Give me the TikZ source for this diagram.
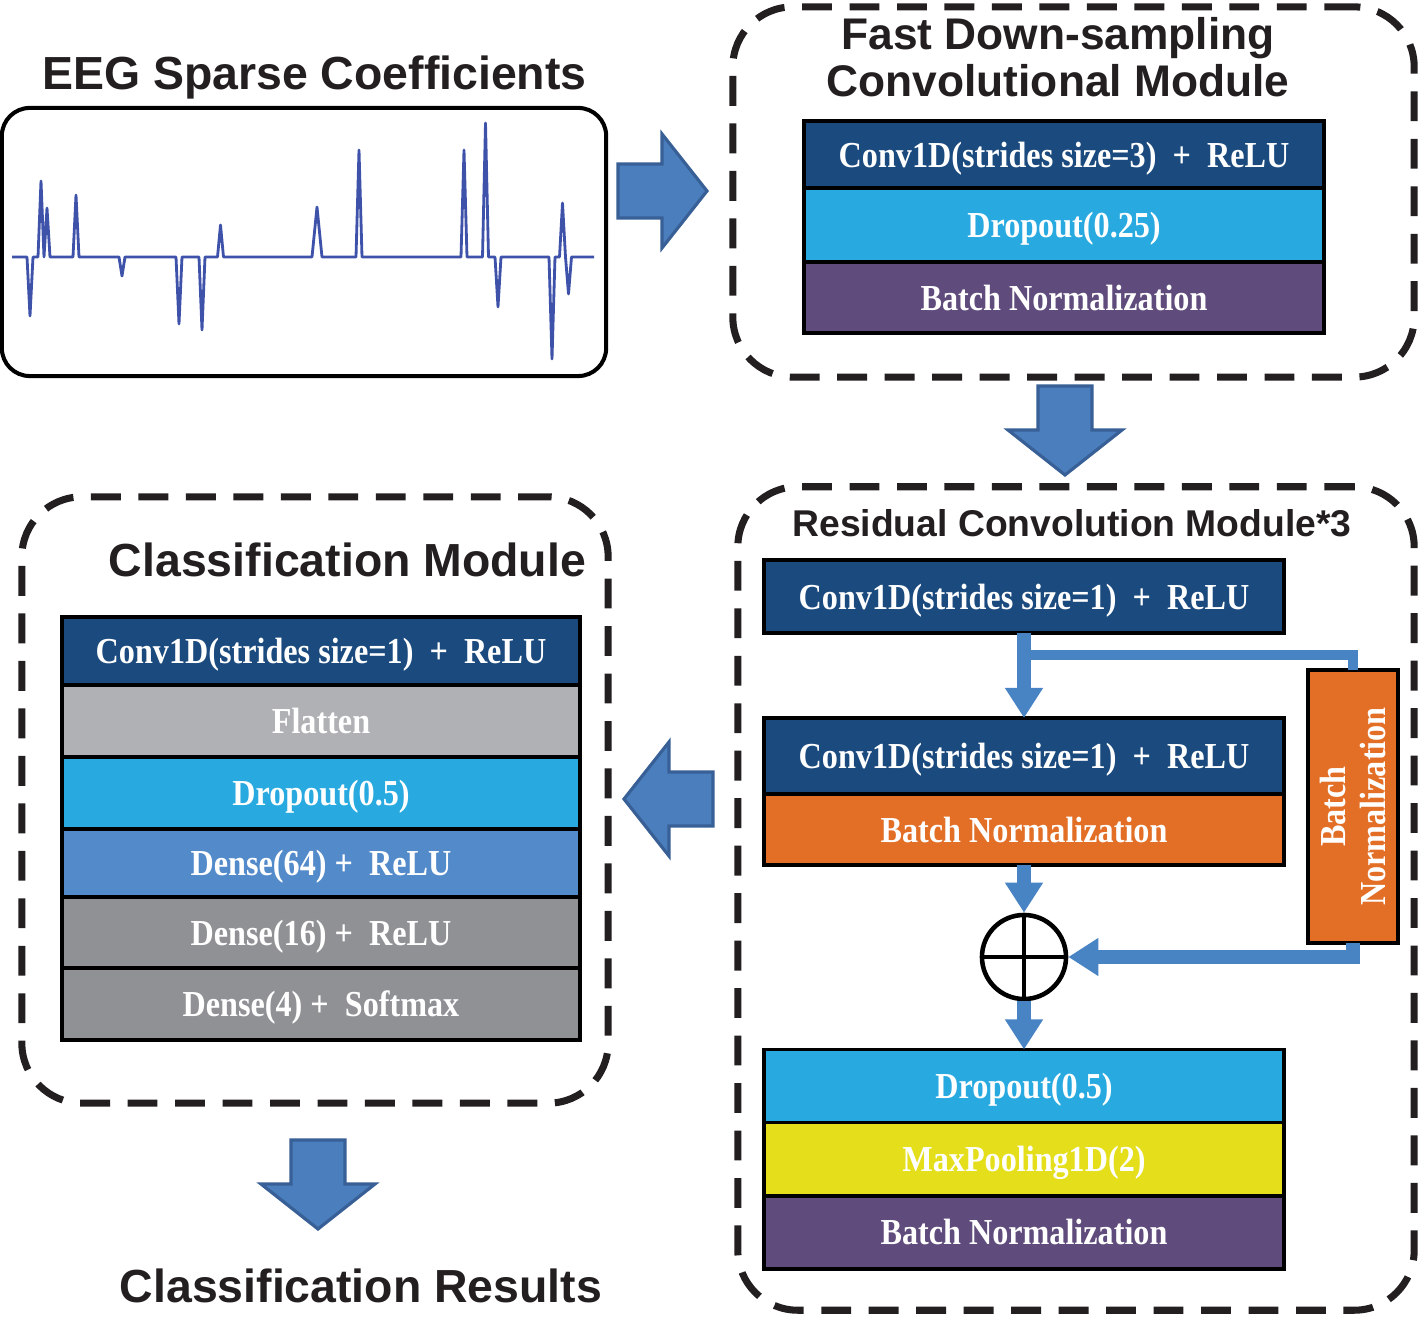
\documentclass[tikz,border=0pt]{standalone}
\usepackage{fontspec}
\setmainfont{Liberation Sans}
\newfontfamily\layerfont{Liberation Serif}[FakeStretch=0.88]
\usetikzlibrary{positioning,arrows.meta}

\definecolor{titleblack}{RGB}{35,31,32}
\definecolor{convblue}{RGB}{27,74,126}
\definecolor{dropblue}{RGB}{40,170,225}
\definecolor{bnpurple}{RGB}{96,76,124}
\definecolor{bnorange}{RGB}{227,111,39}
\definecolor{poolyellow}{RGB}{229,222,26}
\definecolor{flatgrey}{RGB}{175,177,180}
\definecolor{denseblue}{RGB}{82,138,202}
\definecolor{densegrey}{RGB}{143,145,149}
\definecolor{arrowfill}{RGB}{74,126,189}
\definecolor{arrowdraw}{RGB}{56,96,150}
\definecolor{skipblue}{RGB}{72,131,196}
\definecolor{sigblue}{RGB}{62,82,170}

\tikzset{
  modtitle/.style={font=\bfseries\fontsize{13.2}{13.4}\selectfont, text=titleblack, align=center, inner sep=0pt},
  modbox/.style={draw=titleblack, line width=2pt, dash pattern=on 8.5pt off 5pt, rounded corners=0.6cm, inner sep=0pt},
  layerbox/.style={draw=black, line width=1.1pt, outer sep=0pt, inner sep=0pt, minimum width=5.2cm, minimum height=0.71cm, text=white, font=\layerfont\bfseries\fontsize{10.4}{11.4}\selectfont, align=center, text height=0.86em, text depth=0.14em},
  skipline/.style={draw=skipblue, line width=4pt, -{Triangle[width=0.36cm,length=0.3cm]}},
  pics/blockarrow/.style={code={
    \draw[fill=arrowfill, draw=arrowdraw, line width=0.9pt, line join=miter] (0,-27) -- (44,-27) -- (44,-57) -- (89,0) -- (44,57) -- (44,27) -- (0,27) -- cycle;}},
}

\begin{document}
\begin{tikzpicture}[x=0.01cm, y=-0.01cm]
\useasboundingbox (0,0) rectangle (1418,1319);

% EEG input
\node[modtitle, anchor=base] (eegtitle) at (314.5,90) {EEG Sparse Coefficients};
\node[draw=black, line width=1.15pt, rounded corners=0.28cm, minimum width=6.04cm, minimum height=2.68cm] (eeg) at (304,242) {};
\draw[sigblue, line width=0.8pt, line join=round] (12,257)
  \foreach \x/\y/\w in {30/316/3, 41/181/3, 47/208/3, 76/195/3, 122/276/3, 179/324/3, 202/330/3, 220.5/225/3,
                        317/207/5, 359/150/3, 464/150/3, 485.5/123/3, 498/307/3, 552/359/3, 562.5/203/3, 568.5/294/3}
  { -- (\x-\w,257) -- (\x,\y) -- (\x+\w,257) } -- (594,257);

% fast down-sampling module
\node[modbox, minimum width=6.81cm, minimum height=3.70cm] (fastmod) at (1073.5,192) {};
\node[modtitle, font=\bfseries\fontsize{12.6}{13.4}\selectfont] (fasttitle) at (1058,57) {Fast Down-sampling\\Convolutional Module};
\node[layerbox, fill=convblue, minimum height=0.67cm] (fconv) at (1064,154.5) {Conv1D(strides size=3)~~+~~ReLU};
\node[layerbox, fill=dropblue, minimum height=0.74cm, below=0pt of fconv] (fdrop) {Dropout(0.25)};
\node[layerbox, fill=bnpurple, below=0pt of fdrop] (fbn) {Batch Normalization};

% residual module
\node[modbox, minimum width=6.76cm, minimum height=8.23cm] (resmod) at (1076,898.5) {};
\node[modtitle, anchor=base, font=\bfseries\fontsize{10.6}{11}\selectfont] (restitle) at (1072,537) {Residual Convolution Module*3};
\node[layerbox, fill=convblue, minimum height=0.73cm] (rconv1) at (1024,596.5) {Conv1D(strides size=1)~~+~~ReLU};
\node[layerbox, fill=convblue, minimum height=0.76cm] (rconv2) at (1024,756) {Conv1D(strides size=1)~~+~~ReLU};
\node[layerbox, fill=bnorange, below=0pt of rconv2] (rbn) {Batch Normalization};
\node[layerbox, fill=bnorange, rotate=90, text height={}, text depth={}, minimum width=2.73cm, minimum height=0.90cm] (sidebn) at (1353,806.5) {Batch\\Normalization};
\node[circle, draw=black, line width=1.3pt, minimum size=0.84cm, inner sep=0pt] (sum) at (1024,957) {};
\draw[line width=1.3pt] (sum.north) -- (sum.south) (sum.west) -- (sum.east);
\node[layerbox, fill=dropblue, minimum height=0.73cm] (rdrop) at (1024,1086) {Dropout(0.5)};
\node[layerbox, fill=poolyellow, minimum height=0.73cm, below=0pt of rdrop] (rpool) {MaxPooling1D(2)};
\node[layerbox, fill=bnpurple, minimum height=0.73cm, below=0pt of rpool] (rbn2) {Batch Normalization};

% skip connection
\draw[skipline] (rconv1) -- (rconv2);
\draw[skipline, -, line width=3pt] (rconv1.south) ++(0,22) -| (sidebn.east);
\draw[skipline] (sidebn.west) |- (sum.east);
\draw[skipline] (rbn) -- (sum);
\draw[skipline] (sum) -- (rdrop);

% classification module
\node[modbox, minimum width=5.86cm, minimum height=6.06cm] (classmod) at (315,800) {};
\node[modtitle, anchor=base] (classtitle) at (347.5,577) {Classification Module};
\node[layerbox, fill=convblue, minimum width=5.18cm, minimum height=0.68cm] (cconv) at (321,651) {Conv1D(strides size=1)~~+~~ReLU};
\node[layerbox, fill=flatgrey, minimum width=5.18cm, minimum height=0.72cm, below=0pt of cconv] (cflat) {Flatten};
\node[layerbox, fill=dropblue, minimum width=5.18cm, minimum height=0.72cm, below=0pt of cflat] (cdrop) {Dropout(0.5)};
\node[layerbox, fill=denseblue, minimum width=5.18cm, minimum height=0.68cm, below=0pt of cdrop] (cdense1) {Dense(64) +~~ReLU};
\node[layerbox, fill=densegrey, minimum width=5.18cm, minimum height=0.71cm, below=0pt of cdense1] (cdense2) {Dense(16) +~~ReLU};
\node[layerbox, fill=densegrey, minimum width=5.18cm, minimum height=0.72cm, below=0pt of cdense2] (cdense3) {Dense(4) +~~Softmax};

\node[modtitle, anchor=base] (result) at (361,1302) {Classification Results};

% block arrows between modules
\pic at (618,191) {blockarrow};
\pic[rotate=-90] at (1065,386) {blockarrow};
\pic[rotate=180] at (713,799) {blockarrow};
\pic[rotate=-90] at (318,1140) {blockarrow};
\end{tikzpicture}
\end{document}
